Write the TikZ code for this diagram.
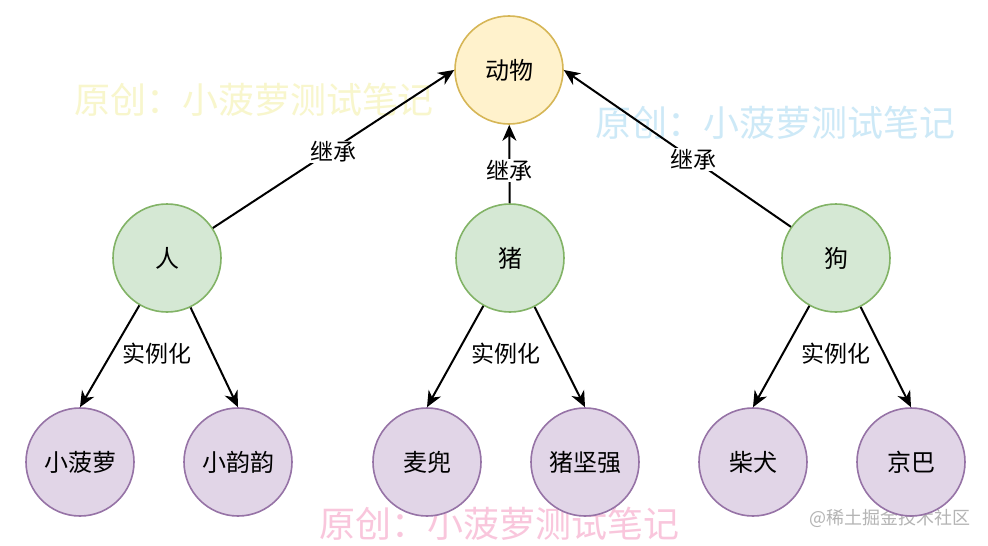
\documentclass[tikz,border=0pt]{standalone}
\usepackage{fontspec}
\setmainfont{Noto Sans CJK SC}
\usetikzlibrary{arrows.meta}
\definecolor{gfill}{HTML}{D5E8D4}\definecolor{gline}{HTML}{82B366}
\definecolor{yfill}{HTML}{FFF2CC}\definecolor{yline}{HTML}{D6B656}
\definecolor{pfill}{HTML}{E1D5E7}\definecolor{pline}{HTML}{9673A6}
\definecolor{wmy}{HTML}{F8F6CC}\definecolor{wmb}{HTML}{CDE9F7}
\definecolor{wmp}{HTML}{F9C6DC}\definecolor{wmg}{HTML}{B4B4B4}
\begin{document}
\begin{tikzpicture}[x=1pt,y=-1pt,
  base/.style={circle,draw,line width=1.6pt,minimum size=108pt,inner sep=0pt,font=\fontsize{24}{28}\selectfont},
  top/.style={base,fill=yfill,draw=yline},
  mid/.style={base,fill=gfill,draw=gline},
  leaf/.style={base,fill=pfill,draw=pline},
  link/.style={line width=2pt,-{Stealth[length=16pt,width=14pt,inset=5pt]}},
  lbl/.style={fill=white,inner sep=1pt,font=\fontsize{23}{26}\selectfont},
  wm/.style={font=\fontsize{36}{40}\selectfont}]
\useasboundingbox (0,0) rectangle (988,546);
\fill[white] (0,0) rectangle (988,546);
\node[wm,text=wmy] (w1) at (254,100) {原创：小菠萝测试笔记};
\node[wm,text=wmb] (w2) at (775,123) {原创：小菠萝测试笔记};
\node[wm,text=wmp] (w3) at (499,524) {原创：小菠萝测试笔记};
\node[text=wmg,font=\fontsize{18}{20}\selectfont] (w4) at (890,518) {@稀土掘金技术社区};
\node[top] (a) at (509,70) {动物};
\node[mid] (p) at (167,258) {人};
\node[mid] (z) at (510,258) {猪};
\node[mid] (g) at (836,258) {狗};
\node[leaf] (l1) at (80,462) {小菠萝};
\node[leaf] (l2) at (238,462) {小韵韵};
\node[leaf] (l3) at (427,462) {麦兜};
\node[leaf] (l4) at (585,462) {猪坚强};
\node[leaf] (l5) at (753,462) {柴犬};
\node[leaf] (l6) at (911,462) {京巴};
\draw[link] (p) -- node[lbl,pos=0.5,yshift=-3pt] {继承} (a.west);
\draw[link] (z) -- node[lbl,pos=0.42] {继承} (a);
\draw[link] (g) -- node[lbl,pos=0.43] {继承} (a.east);
\draw[link] (p) -- (l1.north);
\draw[link] (p) -- (l2.north);
\draw[link] (z) -- (l3.north);
\draw[link] (z) -- (l4.north);
\draw[link] (g) -- (l5.north);
\draw[link] (g) -- (l6.north);
\node[font=\fontsize{23}{26}\selectfont] (t1) at (157,354) {实例化};
\node[font=\fontsize{23}{26}\selectfont] (t2) at (506,354) {实例化};
\node[font=\fontsize{23}{26}\selectfont] (t3) at (836,354) {实例化};
\end{tikzpicture}
\end{document}
